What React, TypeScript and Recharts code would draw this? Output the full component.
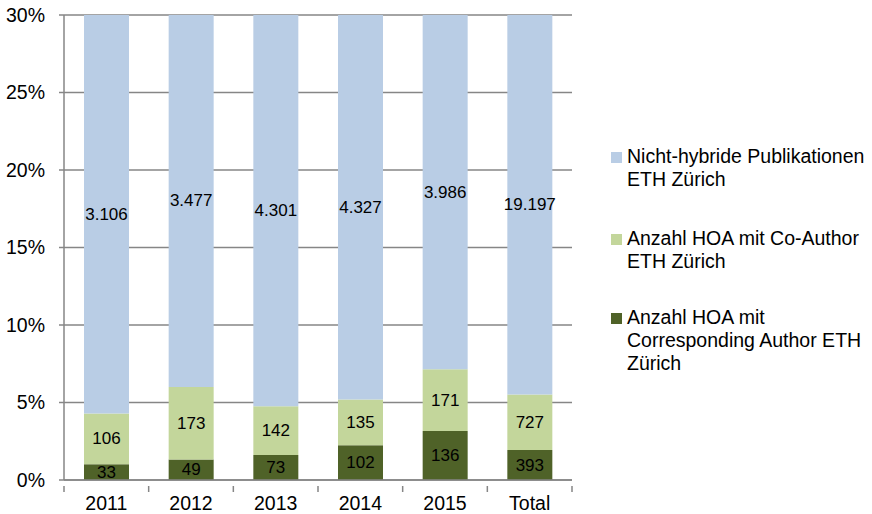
import { BarChart, Bar, XAxis, YAxis, CartesianGrid, LabelList } from "recharts";

const categories = ["2011", "2012", "2013", "2014", "2015", "Total"];
const corresponding = [33, 49, 73, 102, 136, 393];
const coAuthor = [106, 173, 142, 135, 171, 727];
const nonHybrid = [3106, 3477, 4301, 4327, 3986, 19197];
const yTicks = [0, 0.05, 0.1, 0.15, 0.2, 0.25, 0.3];

const seriesNames = [
  ["Nicht-hybride Publikationen", "ETH Zürich"],
  ["Anzahl HOA mit Co-Author", "ETH Zürich"],
  ["Anzahl HOA mit", "Corresponding Author ETH", "Zürich"],
];
const colors = ["#b9cde5", "#c3d69b", "#4f6228"];

const data = categories.map((c, i) => {
  const total = corresponding[i] + coAuthor[i] + nonHybrid[i];
  return {
    name: c,
    corr: corresponding[i] / total,
    co: coAuthor[i] / total,
    non: nonHybrid[i] / total,
    corrN: corresponding[i],
    coN: coAuthor[i],
    nonN: nonHybrid[i],
  };
});

const W = 872;
const H = 514;
const PLOT_TOP = 15;
const Y_AXIS_W = 64;
const RIGHT = 300;
const BAND = (W - RIGHT - Y_AXIS_W) / categories.length;
const axisColor = "#868686";
const fmt = (v: number) => String(v).replace(/\B(?=(\d{3})+(?!\d))/g, ".");
const font = "'Liberation Sans', Arial, sans-serif";

function ClampedLabel(props: any) {
  const { x, y, width, height, value } = props;
  const top = Math.max(y, PLOT_TOP);
  const cy = (top + y + height) / 2;
  return (
    <text x={x + width / 2} y={cy} textAnchor="middle" dominantBaseline="central" fontSize={17} fill="#000" fontFamily={font}>
      {fmt(value)}
    </text>
  );
}

// category label plus tick marks on the band boundaries
function XTick(props: any) {
  const { x, y, payload, index } = props;
  const axisY = y - 10;
  const left = x - BAND / 2;
  const right = x + BAND / 2;
  return (
    <g>
      <line x1={left} x2={left} y1={axisY} y2={axisY + 6} stroke={axisColor} strokeWidth={1.5} />
      {index === categories.length - 1 && <line x1={right} x2={right} y1={axisY} y2={axisY + 6} stroke={axisColor} strokeWidth={1.5} />}
      <text x={x} y={y} dy="0.71em" textAnchor="middle" fontSize={19.5} fill="#000" fontFamily={font}>
        {payload.value}
      </text>
    </g>
  );
}

function Legend() {
  const tops = [145, 227, 306];
  return (
    <>
      {seriesNames.map((lines, i) => (
        <div key={i} style={{ position: "absolute", left: 611, top: tops[i], fontFamily: font, fontSize: 19.5, lineHeight: "23px", color: "#000", whiteSpace: "nowrap" }}>
          <span style={{ position: "absolute", left: 0, top: 7, width: 11, height: 11, background: colors[i] }} />
          <div style={{ marginLeft: 16 }}>
            {lines.map((l, j) => (
              <div key={j}>{l}</div>
            ))}
          </div>
        </div>
      ))}
    </>
  );
}

export default function App() {
  return (
    <div style={{ position: "absolute", left: 0, top: 0, width: W, height: H, background: "#fff" }}>
      <BarChart width={W} height={H} data={data} margin={{ top: PLOT_TOP, right: RIGHT, left: 0, bottom: 0 }}>
        <CartesianGrid horizontal vertical={false} stroke={axisColor} strokeWidth={1.5} />
        <XAxis dataKey="name" height={34} tickLine={false} axisLine={{ stroke: axisColor, strokeWidth: 1.5 }} tickMargin={10} tick={<XTick />} interval={0} />
        <YAxis width={Y_AXIS_W} domain={[0, 0.3]} ticks={yTicks} allowDataOverflow tickFormatter={(v) => `${Math.round(v * 100)}%`} tickSize={5} tickMargin={14} axisLine={{ stroke: axisColor, strokeWidth: 1.5 }} tickLine={{ stroke: axisColor, strokeWidth: 1.5 }} tick={{ fontSize: 19.5, fill: "#000", fontFamily: font }} />
        <Bar dataKey="corr" stackId="a" fill={colors[2]} barSize={45} isAnimationActive={false}>
          <LabelList dataKey="corrN" content={ClampedLabel} />
        </Bar>
        <Bar dataKey="co" stackId="a" fill={colors[1]} barSize={45} isAnimationActive={false}>
          <LabelList dataKey="coN" content={ClampedLabel} />
        </Bar>
        <Bar dataKey="non" stackId="a" fill={colors[0]} barSize={45} isAnimationActive={false}>
          <LabelList dataKey="nonN" content={ClampedLabel} />
        </Bar>
      </BarChart>
      <Legend />
    </div>
  );
}
